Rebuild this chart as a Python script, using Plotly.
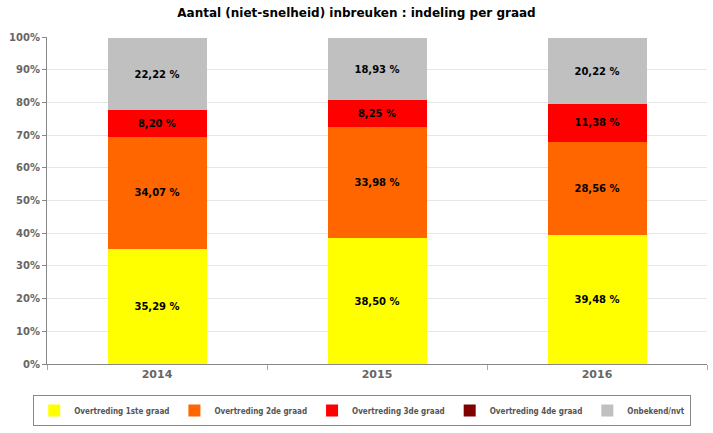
import plotly.graph_objects as go

years = ["2014", "2015", "2016"]
series_names = ["Overtreding 1ste graad", "Overtreding 2de graad", "Overtreding 3de graad",
                "Overtreding 4de graad", "Onbekend/nvt"]
graad1 = [35.29, 38.50, 39.48]
graad2 = [34.07, 33.98, 28.56]
graad3 = [8.20, 8.25, 11.38]
graad4 = [0, 0, 0]
onbekend = [22.22, 18.93, 20.22]
colors = ["#FFFF00", "#FF6600", "#FF0000", "#800000", "#C0C0C0"]
y_ticks = list(range(0, 101, 10))

fig = go.Figure()
for name, vals, col in zip(series_names, [graad1, graad2, graad3, graad4, onbekend], colors):
    labels = [("%.2f %%" % v).replace(".", ",") if v > 0 else "" for v in vals]
    fig.add_trace(go.Bar(
        x=years, y=vals, name=name, marker=dict(color=col, line=dict(width=0)),
        text=labels, textposition="inside", insidetextanchor="middle",
        textfont=dict(family="DejaVu Sans", size=10, color="black", weight="bold"),
        width=0.45, hoverinfo="skip",
    ))

fig.update_layout(
    barmode="stack",
    width=713, height=433,
    margin=dict(l=47, r=6, t=37, b=69, autoexpand=False),
    paper_bgcolor="white", plot_bgcolor="white",
    title=dict(text="<b>Aantal (niet-snelheid) inbreuken : indeling per graad</b>",
               x=0.5, xref="container", y=0.97, yanchor="middle",
               font=dict(family="DejaVu Sans", size=12, color="black")),
    legend=dict(orientation="h", xref="container", x=0.508, xanchor="center",
                yref="container", y=0.052, yanchor="middle",
                bordercolor="#888888", borderwidth=1, bgcolor="white",
                font=dict(family="DejaVu Sans Condensed", size=8, color="#555555", weight="bold"),
                itemwidth=30, tracegroupgap=0, traceorder="normal"),
    showlegend=True,
)
fig.update_xaxes(
    type="category", range=[-0.5, 2.5], tickson="boundaries",
    ticks="outside", ticklen=5, tickcolor="#aaaaaa",
    showline=True, linecolor="#888888", linewidth=1,
    showgrid=False, automargin=False,
    tickfont=dict(family="DejaVu Sans", size=11, color="#666666", weight="bold"),
)
fig.update_yaxes(
    range=[0, 100], tickvals=y_ticks, ticktext=["%d%%" % t for t in y_ticks],
    ticks="outside", ticklen=4, tickcolor="#888888",
    showline=True, linecolor="#888888", linewidth=1,
    gridcolor="#e6e6e6", zeroline=False, automargin=False,
    tickfont=dict(family="DejaVu Sans", size=10, color="#666666", weight="bold"),
)
fig.write_html("out.html", config={"displayModeBar": False},
               post_script="document.body.style.margin='0';document.body.style.overflow='hidden';")
